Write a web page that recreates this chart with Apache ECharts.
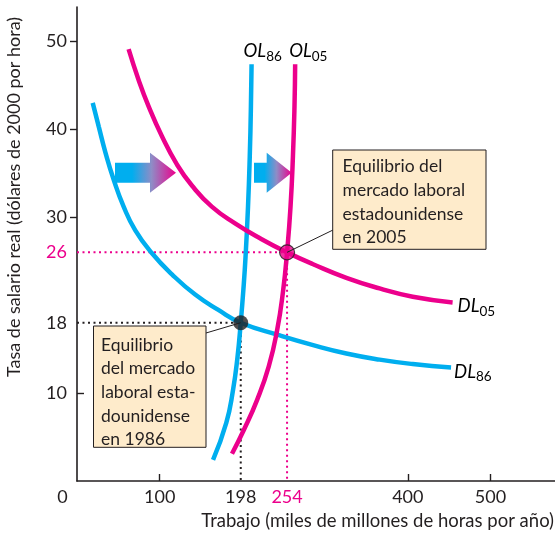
<!DOCTYPE html>
<html><head><meta charset="utf-8">
<script src="https://cdn.jsdelivr.net/npm/echarts@6/dist/echarts.min.js"></script>
<style>html,body{margin:0;padding:0;background:#fff}#c{width:555px;height:534px}</style>
</head><body><div id="c"></div>
<script>
// ---- data ----
const DL86 = [[19,43],[26.3,40.3],[34.4,37.35],[44.4,34.25],[56.4,31.2],[70.5,28.5],[90.7,25.9],[114.8,23.5],[142.9,21.2],[170.9,19.45],[198,18],[245.3,16.55],[285.5,15.45],[325.7,14.5],[365.9,13.8],[406,13.3],[452.3,12.9]];
const DL05 = [[62.4,49.1],[74.5,45.6],[86.6,42.6],[102.7,39.2],[120.8,36.0],[138.9,33.6],[163,31.2],[191.1,29.3],[223.3,27.5],[254,26],[285.5,24.65],[325.7,23.1],[365.9,21.9],[406,20.95],[454.2,20.3]];
const OL86 = [[164.5,2.4],[180.5,6.6],[188.6,10.3],[194.1,14.1],[198,18],[201.15,21.7],[203.8,25.5],[206.8,31.2],[208.9,36.9],[210.3,42.6],[211.1,47.4]];
const OL05 = [[187.4,3.1],[201.7,5.8],[217.7,9.2],[231.8,13],[242.1,17.2],[249.3,21.7],[254,26],[258.2,31.2],[261.1,36.9],[263,42.6],[263.8,47.4]];
const EQ86 = [198,18];
const EQ05 = [254,26];
const xLabels = [100,198,254,400,500];
const xTicks = [100,400,500];
const yLabels = [10,18,26,30,40,50];
const yTicksOut = [30,40,50];
const yTicksIn = [10];
const pinkValues = [254,26];

const BLUE = '#00AEEF', PINK = '#EC008C', INK = '#231F20';
const FONT = 'Lato';

const chart = echarts.init(document.getElementById('c'));
const lbl = (v) => pinkValues.includes(v) ? '{p|' + v + '}' : '{k|' + v + '}';
const rich = { p: {color: PINK, fontSize: 18, fontFamily: FONT}, k: {color: INK, fontSize: 18, fontFamily: FONT} };

const option = {
  animation: false,
  grid: {left: 77, top: 7, right: 0, bottom: 53, containLabel: false, outerBoundsMode: 'none'},
  xAxis: {
    type: 'value', min: 0, max: 578,
    splitLine: {show: false},
    axisLine: {lineStyle: {color: INK, width: 1.6}},
    axisTick: {customValues: xTicks, inside: true, length: 7, lineStyle: {color: INK, width: 1.4}},
    axisLabel: {customValues: xLabels, formatter: lbl, rich: rich, margin: 7}
  },
  yAxis: [{
    type: 'value', min: 0, max: 53.9,
    splitLine: {show: false},
    axisLine: {show: true, lineStyle: {color: INK, width: 1.6}},
    axisTick: {show: true, customValues: yTicksOut, inside: false, length: 7, lineStyle: {color: INK, width: 1.4}},
    axisLabel: {customValues: yLabels, formatter: lbl, rich: rich, margin: 10}
  }, {
    type: 'value', min: 0, max: 53.9, position: 'left',
    splitLine: {show: false},
    axisLine: {show: false},
    axisTick: {show: true, customValues: yTicksIn, inside: true, length: 7, lineStyle: {color: INK, width: 1.4}},
    axisLabel: {show: false}
  }],
  series: [
    {type: 'line', data: [[0, EQ05[1]], EQ05, [EQ05[0], 0]], symbol: 'none', silent: true,
     lineStyle: {color: PINK, width: 2, type: [2, 3.5]}, z: 1},
    {type: 'line', data: [[0, EQ86[1]], EQ86, [EQ86[0], 0]], symbol: 'none', silent: true,
     lineStyle: {color: INK, width: 2, type: [2, 3.5]}, z: 1},
    {type: 'line', name: 'DL86', data: DL86, smooth: 0.5, symbol: 'none', lineStyle: {color: BLUE, width: 4.5}, z: 2},
    {type: 'line', name: 'OL86', data: OL86, smooth: 0.5, symbol: 'none', lineStyle: {color: BLUE, width: 4.5}, z: 2},
    {type: 'line', name: 'DL05', data: DL05, smooth: 0.5, symbol: 'none', lineStyle: {color: PINK, width: 4.5}, z: 3},
    {type: 'line', name: 'OL05', data: OL05, smooth: 0.5, symbol: 'none', lineStyle: {color: PINK, width: 4.5}, z: 3},
    {type: 'scatter', data: [EQ86], symbolSize: 15, itemStyle: {color: INK}, z: 5},
    {type: 'scatter', data: [EQ05], symbolSize: 15, itemStyle: {color: PINK, borderColor: INK, borderWidth: 1.2}, z: 5}
  ]
};
chart.setOption(option);

const px = p => chart.convertToPixel({gridIndex: 0}, p);
const e86 = px(EQ86), e05 = px(EQ05);
const ol86Top = px(OL86[OL86.length - 1]), ol05Top = px(OL05[OL05.length - 1]);
const dl86End = px(DL86[DL86.length - 1]), dl05End = px(DL05[DL05.length - 1]);

const curveRich = {
  i: {fontStyle: 'italic', fontSize: 18.5, fontFamily: FONT, color: INK, lineHeight: 24, verticalAlign: 'middle'},
  s: {fontSize: 13.5, fontFamily: FONT, color: INK, lineHeight: 12, verticalAlign: 'bottom'}
};
function curveLabel(text, sub, x, y) {
  return {type: 'text', x: x, y: y, z: 20, style: {text: '{i|' + text + '}{s|' + sub + '}', rich: curveRich, align: 'left', verticalAlign: 'middle'}};
}
const grad = () => new echarts.graphic.LinearGradient(0, 0, 1, 0, [
  {offset: 0, color: BLUE}, {offset: 0.28, color: BLUE}, {offset: 0.6, color: '#8F8CC6'}, {offset: 1, color: PINK}
]);
function arrow(x0, x1, x2, yc) {
  return {type: 'polygon', z: 10, shape: {points: [[x0, yc - 10], [x1, yc - 10], [x1, yc - 20], [x2, yc], [x1, yc + 20], [x1, yc + 10], [x0, yc + 10]]},
          style: {fill: grad()}};
}
const boxText = {fontSize: 17.5, fontFamily: FONT, fill: INK, lineHeight: 23.6, align: 'left', verticalAlign: 'top'};

chart.setOption({
  graphic: [
    arrow(115, 150, 176, 172.7),
    arrow(254, 266.7, 291.7, 172.7),
    curveLabel('OL', '86', ol86Top[0] - 8, ol86Top[1] - 13),
    curveLabel('OL', '05', ol05Top[0] - 6, ol05Top[1] - 13),
    curveLabel('DL', '05', dl05End[0] + 5, dl05End[1] + 4),
    curveLabel('DL', '86', dl86End[0] + 3, dl86End[1] + 4),
    {type: 'line', z: 8, shape: {x1: 333, y1: 230, x2: e05[0], y2: e05[1]}, style: {stroke: INK, lineWidth: 1}},
    {type: 'line', z: 8, shape: {x1: 206, y1: 333, x2: e86[0], y2: e86[1]}, style: {stroke: INK, lineWidth: 1}},
    {type: 'rect', z: 9, shape: {x: 332.7, y: 150, width: 153.3, height: 99.3}, style: {fill: '#FEEBCB', stroke: INK, lineWidth: 1}},
    {type: 'text', z: 11, x: 342.5, y: 155, style: Object.assign({text: 'Equilibrio del\nmercado laboral\nestadounidense\nen 2005'}, boxText)},
    {type: 'rect', z: 9, shape: {x: 93.5, y: 326, width: 112.5, height: 121.3}, style: {fill: '#FEEBCB', stroke: INK, lineWidth: 1}},
    {type: 'text', z: 11, x: 101, y: 333.3, style: Object.assign({text: 'Equilibrio\ndel mercado\nlaboral esta-\ndounidense\nen 1986'}, boxText)},
    {type: 'text', z: 11, x: 62.5, y: 497, style: {text: '0', fontSize: 18, fontFamily: FONT, fill: INK, align: 'center', verticalAlign: 'middle'}},
    {type: 'text', z: 11, x: 554, y: 521, style: {text: 'Trabajo (miles de millones de horas por año)', fontSize: 18.5, fontFamily: FONT, fill: INK, align: 'right', verticalAlign: 'middle'}},
    {type: 'text', z: 11, x: 14, y: 197, rotation: Math.PI / 2, style: {text: 'Tasa de salario real (dólares de 2000 por hora)', fontSize: 18, fontFamily: FONT, fill: INK, align: 'center', verticalAlign: 'middle'}}
  ]
});
</script></body></html>
